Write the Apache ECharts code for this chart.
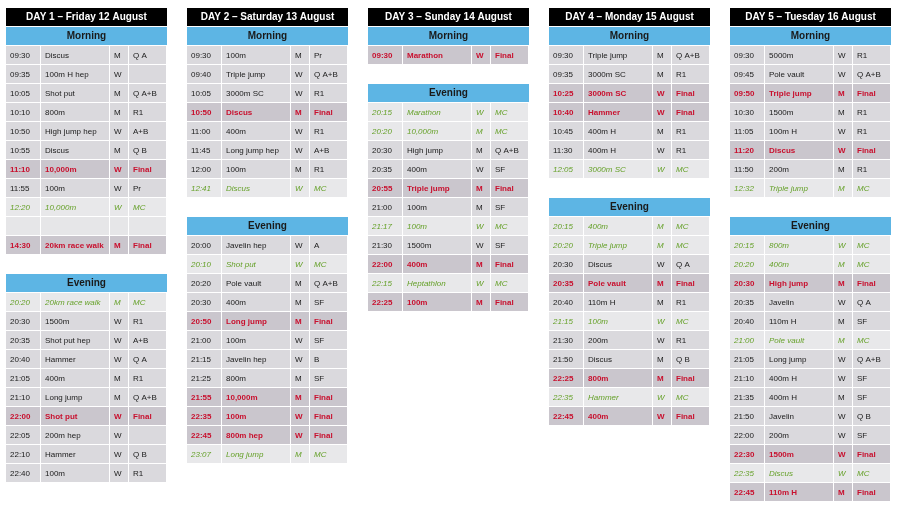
<!DOCTYPE html>
<html><head><meta charset="utf-8">
<script src="https://cdn.jsdelivr.net/npm/echarts@6/dist/echarts.min.js"></script>
<style>html,body{margin:0;background:#fff}#c{width:922px;height:517px}</style>
</head><body><div id="c"></div>
<script>
// 每天的标题
const dayTitles = ['DAY 1 – Friday 12 August','DAY 2 – Saturday 13 August','DAY 3 – Sunday 14 August','DAY 4 – Monday 15 August','DAY 5 – Tuesday 16 August'];
// 上午 / 晚上 赛程 (null = 空行)
const morning = [
  [['09:30','Discus','M','Q A'],['09:35','100m H hep','W',''],['10:05','Shot put','M','Q A+B'],['10:10','800m','M','R1'],['10:50','High jump hep','W','A+B'],['10:55','Discus','M','Q B'],['11:10','10,000m','W','Final'],['11:55','100m','W','Pr'],['12:20','10,000m','W','MC'],null,['14:30','20km race walk','M','Final']],
  [['09:30','100m','M','Pr'],['09:40','Triple jump','W','Q A+B'],['10:05','3000m SC','W','R1'],['10:50','Discus','M','Final'],['11:00','400m','W','R1'],['11:45','Long jump hep','W','A+B'],['12:00','100m','M','R1'],['12:41','Discus','W','MC']],
  [['09:30','Marathon','W','Final']],
  [['09:30','Triple jump','M','Q A+B'],['09:35','3000m SC','M','R1'],['10:25','3000m SC','W','Final'],['10:40','Hammer','W','Final'],['10:45','400m H','M','R1'],['11:30','400m H','W','R1'],['12:05','3000m SC','W','MC']],
  [['09:30','5000m','W','R1'],['09:45','Pole vault','W','Q A+B'],['09:50','Triple jump','M','Final'],['10:30','1500m','M','R1'],['11:05','100m H','W','R1'],['11:20','Discus','W','Final'],['11:50','200m','M','R1'],['12:32','Triple jump','M','MC']]
];
const evening = [
  [['20:20','20km race walk','M','MC'],['20:30','1500m','W','R1'],['20:35','Shot put hep','W','A+B'],['20:40','Hammer','W','Q A'],['21:05','400m','M','R1'],['21:10','Long jump','M','Q A+B'],['22:00','Shot put','W','Final'],['22:05','200m hep','W',''],['22:10','Hammer','W','Q B'],['22:40','100m','W','R1']],
  [['20:00','Javelin hep','W','A'],['20:10','Shot put','W','MC'],['20:20','Pole vault','M','Q A+B'],['20:30','400m','M','SF'],['20:50','Long jump','M','Final'],['21:00','100m','W','SF'],['21:15','Javelin hep','W','B'],['21:25','800m','M','SF'],['21:55','10,000m','M','Final'],['22:35','100m','W','Final'],['22:45','800m hep','W','Final'],['23:07','Long jump','M','MC']],
  [['20:15','Marathon','W','MC'],['20:20','10,000m','M','MC'],['20:30','High jump','M','Q A+B'],['20:35','400m','W','SF'],['20:55','Triple jump','M','Final'],['21:00','100m','M','SF'],['21:17','100m','W','MC'],['21:30','1500m','W','SF'],['22:00','400m','M','Final'],['22:15','Heptathlon','W','MC'],['22:25','100m','M','Final']],
  [['20:15','400m','M','MC'],['20:20','Triple jump','M','MC'],['20:30','Discus','W','Q A'],['20:35','Pole vault','M','Final'],['20:40','110m H','M','R1'],['21:15','100m','W','MC'],['21:30','200m','W','R1'],['21:50','Discus','M','Q B'],['22:25','800m','M','Final'],['22:35','Hammer','W','MC'],['22:45','400m','W','Final']],
  [['20:15','800m','W','MC'],['20:20','400m','M','MC'],['20:30','High jump','M','Final'],['20:35','Javelin','W','Q A'],['20:40','110m H','M','SF'],['21:00','Pole vault','M','MC'],['21:05','Long jump','W','Q A+B'],['21:10','400m H','W','SF'],['21:35','400m H','M','SF'],['21:50','Javelin','W','Q B'],['22:00','200m','W','SF'],['22:30','1500m','W','Final'],['22:35','Discus','W','MC'],['22:45','110m H','M','Final']]
];

const ROWS = 26;
const COLW = 161 / 181;
// 构建单元格数据 [day, row, kind, time, event, sex, round]
const cells = [];
dayTitles.forEach((t, d) => {
  let r = 0;
  cells.push([d, r++, 'title', t, '', '', '']);
  cells.push([d, r++, 'head', 'Morning', '', '', '']);
  morning[d].forEach(m => cells.push(m ? [d, r++, 'row', ...m] : [d, r++, 'blank', '', '', '', '']));
  r++;
  cells.push([d, r++, 'head', 'Evening', '', '', '']);
  evening[d].forEach(m => cells.push([d, r++, 'row', ...m]));
});

function renderItem(params, api) {
  const d = api.value(0), r = api.value(1);
  const kind = cells[params.dataIndex][2];
  const c = cells[params.dataIndex];
  const p0 = api.coord([d, r]);
  const p1 = api.coord([d + COLW, r]);
  const h = api.size([0, 1])[1];
  const x = p0[0], w = p1[0] - p0[0], y = p0[1] - h / 2;
  const kids = [];
  if (kind === 'title') {
    kids.push({type:'rect', shape:{x, y, width:w, height:h - 1}, style:{fill:'#000'}});
    kids.push({type:'text', style:{text:c[3], x:x + w / 2, y:y + h / 2, align:'center', verticalAlign:'middle', fill:'#fff', font:'bold 10px Arial, "Liberation Sans"'}});
  } else if (kind === 'head') {
    kids.push({type:'rect', shape:{x, y, width:w, height:h - 1}, style:{fill:'#5db5e4'}});
    kids.push({type:'text', style:{text:c[3], x:x + w / 2, y:y + h / 2, align:'center', verticalAlign:'middle', fill:'#1a1a1a', font:'bold 10px Arial, "Liberation Sans"'}});
  } else {
    const fin = c[6] === 'Final', mc = c[6] === 'MC';
    const bg = kind === 'blank' ? '#e6e6e8' : fin ? '#cac6cd' : mc ? '#e8e8ea' : '#dad9dd';
    const col = fin ? '#c8102e' : mc ? '#66a12a' : '#1a1a1a';
    const font = (fin ? 'bold ' : mc ? 'italic ' : '') + '8px Arial, "Liberation Sans"';
    const bounds = [0, 35, 104, 123, 161].map(v => x + v * w / 161);
    for (let i = 0; i < 4; i++) {
      kids.push({type:'rect', shape:{x:bounds[i], y, width:bounds[i + 1] - bounds[i] - 1, height:h - 1}, style:{fill:bg}});
      const txt = c[3 + i];
      if (txt) kids.push({type:'text', style:{text:txt, x:bounds[i] + 4, y:y + h / 2, verticalAlign:'middle', fill:col, font}});
    }
  }
  return {type:'group', children:kids};
}

const chart = echarts.init(document.getElementById('c'));
chart.setOption({
  animation:false,
  grid:{left:6, right:11, top:8, height:494},
  xAxis:{type:'value', min:0, max:5, show:false},
  yAxis:{type:'category', inverse:true, data:Array.from({length:ROWS}, (_, i) => i), show:false},
  series:[{type:'custom', renderItem, data:cells.map(c => [c[0], c[1]]), clip:false}]
});
</script></body></html>
